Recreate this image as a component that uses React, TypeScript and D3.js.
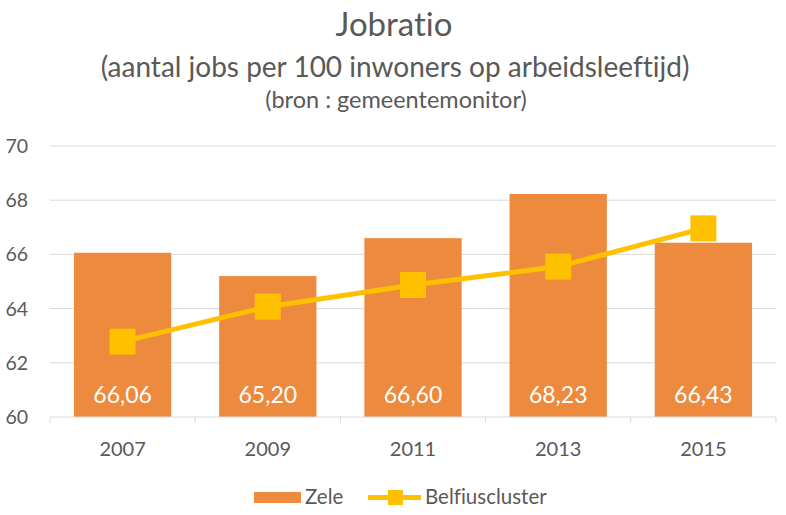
import React from "react";
import * as d3 from "d3";

const categories = ["2007", "2009", "2011", "2013", "2015"];
const zeleValues = [66.06, 65.2, 66.6, 68.23, 66.43];
const zeleLabels = ["66,06", "65,20", "66,60", "68,23", "66,43"];
const belfiusValues = [62.78, 64.07, 64.87, 65.55, 66.96];
const yTicks = [60, 62, 64, 66, 68, 70];

const W = 786;
const H = 515;
const FONT = "Lato, 'Open Sans', sans-serif";
const TEXT = "#595959";

export default function App() {
  const x = d3.scaleBand().domain(categories).range([50, 776]).paddingInner(0.33).paddingOuter(0.165);
  const band = d3.scaleBand().domain(categories).range([50, 776]);
  const y = d3.scaleLinear().domain([60, 70]).range([417, 146]);
  const line = d3
    .line<number>()
    .x((_, i) => band(categories[i])! + band.bandwidth() / 2)
    .y((d) => y(d));
  const ms = 26;
  return (
    <svg
      width={W}
      height={H}
      style={{ position: "absolute", left: 0, top: 0, background: "#fff", fontVariantLigatures: "none" }}
      fontFamily={FONT}
    >
      <rect width={W} height={H} fill="#fff" />
      <text x={394} y={36} textAnchor="middle" fontSize={33} fill={TEXT}>Jobratio</text>
      <text x={395} y={77} textAnchor="middle" fontSize={28} fill={TEXT}>(aantal jobs per 100 inwoners op arbeidsleeftijd)</text>
      <text x={396} y={108} textAnchor="middle" fontSize={23.5} fill={TEXT}>(bron : gemeentemonitor)</text>
      {yTicks.map((t) => (
        <g key={t}>
          {t !== 60 && <line x1={50} x2={776} y1={y(t)} y2={y(t)} stroke="#d9d9d9" strokeWidth={1} />}
          <text x={28} y={y(t) + 7} textAnchor="end" fontSize={19.5} fill={TEXT}>{t}</text>
        </g>
      ))}
      {categories.map((c, i) => (
        <g key={c}>
          <rect x={x(c)} y={y(zeleValues[i])} width={x.bandwidth()} height={y(60) - y(zeleValues[i])} fill="#ED8A3E" />
          <text x={x(c)! + x.bandwidth() / 2} y={403} textAnchor="middle" fontSize={23} fill="#fff">{zeleLabels[i]}</text>
          <text x={band(c)! + band.bandwidth() / 2} y={456} textAnchor="middle" fontSize={20} fill={TEXT}>{c}</text>
        </g>
      ))}
      <line x1={50} x2={776} y1={y(60)} y2={y(60)} stroke="#d9d9d9" strokeWidth={1} />
      {[...categories.map((c) => band(c)!), 776].map((v, i) => (
        <line key={i} x1={v} x2={v} y1={y(60)} y2={y(60) + 6} stroke="#d9d9d9" strokeWidth={1} />
      ))}
      <path d={line(belfiusValues) || ""} fill="none" stroke="#FFC000" strokeWidth={5} strokeLinejoin="round" />
      {belfiusValues.map((v, i) => (
        <rect key={i} x={band(categories[i])! + band.bandwidth() / 2 - ms / 2} y={y(v) - ms / 2} width={ms} height={ms} fill="#FFC000" />
      ))}
      <rect x={254} y={492} width={47} height={11} fill="#ED8A3E" />
      <text x={305} y={504} fontSize={20.5} fill={TEXT}>Zele</text>
      <line x1={368} x2={421} y1={497.5} y2={497.5} stroke="#FFC000" strokeWidth={5} />
      <rect x={388} y={490} width={15} height={15} fill="#FFC000" />
      <text x={425} y={504} fontSize={20.5} fill={TEXT}>Belfiuscluster</text>
    </svg>
  );
}
